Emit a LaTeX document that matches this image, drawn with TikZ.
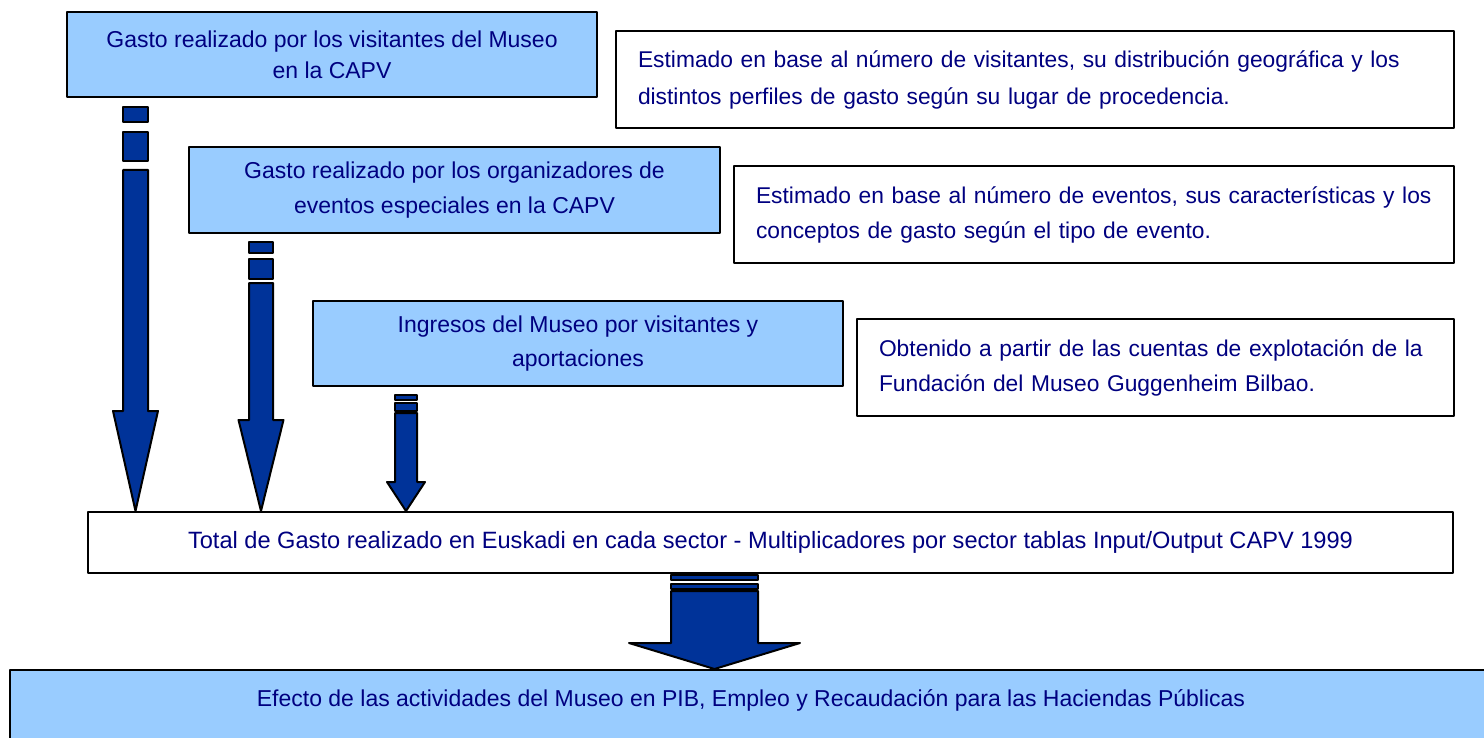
\documentclass[tikz,border=0pt]{standalone}
\usepackage{fontspec}
\setmainfont{Liberation Sans}
\usetikzlibrary{positioning}

\definecolor{boxblue}{HTML}{99CCFF}
\definecolor{arrowblue}{HTML}{003399}
\definecolor{textnavy}{HTML}{000080}

% cx, half shaft, half head, shaft top, head top, node under the tip
\newcommand{\blockarrow}[6]{%
  \draw[blockarr] (#1-#2,#4) -- (#1-#2,#5) -- (#1-#3,#5) -- (#1,0 |- #6)
    -- (#1+#3,#5) -- (#1+#2,#5) -- (#1+#2,#4) -- cycle;}

\begin{document}
\begin{tikzpicture}[
                    x=0.5pt,
                    y=-0.5pt,
                    line width=1pt,
                    line join=round
                ]
                \tikzstyle{bluebox}=[draw=black,fill=boxblue,text=textnavy,align=center,
                                     font=\fontsize{11.5}{15.5}\selectfont]
                \tikzstyle{whitebox}=[draw=black,fill=white,text=textnavy,align=left,anchor=west,
                                      inner xsep=11pt,minimum height=48.5pt,
                                      font=\fontsize{11.4}{18.5}\selectfont]
                \tikzstyle{blockarr}=[draw=black,fill=arrowblue]

                \clip (0,0) rectangle (1484,738);
                \fill[white] (0,0) rectangle (1484,738);

                \node[bluebox,minimum width=265pt,minimum height=42.5pt] (gVis) at (332,54.5)
                    {Gasto realizado por los visitantes del Museo\\en la CAPV};
                \node[whitebox,text width=397pt] (eVis) at (615,79.5)
                    {Estimado en base al número de visitantes, su distribución geográfica y los\\
                     distintos perfiles de gasto según su lugar de procedencia.};

                \node[bluebox,minimum width=265.5pt,minimum height=43pt,
                      font=\fontsize{11.5}{17.5}\selectfont] (gOrg) at (454.5,190)
                    {Gasto realizado por los organizadores de\\eventos especiales en la CAPV};
                \node[whitebox,text width=338pt,font=\fontsize{11.4}{17.5}\selectfont] (eOrg) at (733,214.5)
                    {Estimado en base al número de eventos, sus características y los\\
                     conceptos de gasto según el tipo de evento.};

                \node[bluebox,minimum width=265pt,minimum height=42.5pt,
                      font=\fontsize{11.5}{17}\selectfont] (ingMus) at (578,343.5)
                    {Ingresos del Museo por visitantes y\\aportaciones};
                \node[whitebox,text width=276.5pt,font=\fontsize{11.4}{17.5}\selectfont] (eMus) at (856,367.5)
                    {Obtenido a partir de las cuentas de explotación de la\\
                     Fundación del Museo Guggenheim Bilbao.};

                \node[draw=black,fill=white,text=textnavy,minimum width=682.5pt,minimum height=30.5pt,
                      font=\fontsize{11.8}{15.5}\selectfont] (total) at (770.5,542.5)
                    {Total de Gasto realizado en Euskadi en cada sector - Multiplicadores por sector tablas Input/Output CAPV 1999};

                \node[bluebox,anchor=north,minimum width=741pt,minimum height=40.5pt,
                      text height=8pt,text depth=12.5pt] (effect) at (751,669)
                    {Efecto de las actividades del Museo en PIB, Empleo y Recaudación para las Haciendas Públicas};

                % visitantes
                \draw[blockarr] (123,107) rectangle (148,122);
                \draw[blockarr] (123,132) rectangle (148,161);
                \blockarrow{135.5}{12.5}{22.5}{170}{411}{total.north}
                % organizadores
                \draw[blockarr] (249,242) rectangle (273,253);
                \draw[blockarr] (249,259) rectangle (273,279);
                \blockarrow{261}{12}{22.5}{283}{420}{total.north}
                % ingresos
                \draw[blockarr] (395,395) rectangle (417,400);
                \draw[blockarr] (395,403) rectangle (417,411);
                \blockarrow{406}{11}{19}{413}{482}{total.north}
                % total -> efecto
                \draw[blockarr] (671,575) rectangle (758,580);
                \draw[blockarr] (671,584) rectangle (758,589);
                \blockarrow{714.5}{43.5}{85.5}{591}{643}{effect.north}

            \end{tikzpicture}
\end{document}
